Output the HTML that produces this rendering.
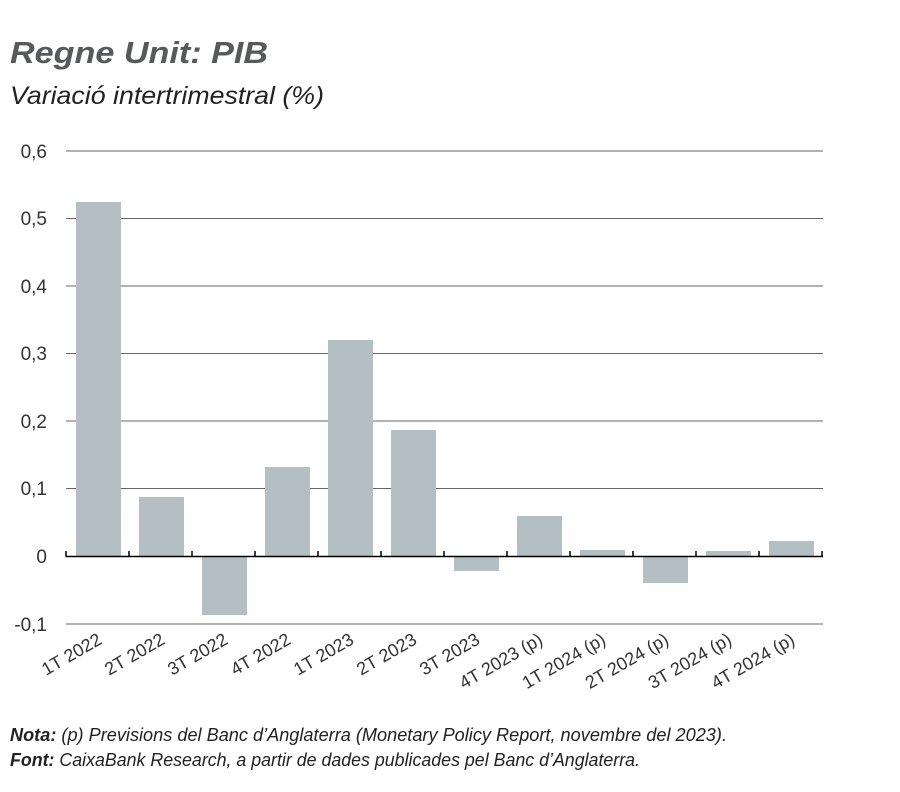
<!DOCTYPE html>
<html><head><meta charset="utf-8"><style>
body{margin:0;background:#fff;width:900px;height:787px;overflow:hidden;font-family:"Liberation Sans",sans-serif;}
</style></head><body>
<svg width="900" height="787" xmlns="http://www.w3.org/2000/svg" font-family="Liberation Sans, sans-serif">
<text x="10" y="63" font-size="31" font-weight="bold" font-style="italic" fill="#58595b" textLength="258" lengthAdjust="spacingAndGlyphs">Regne Unit: PIB</text>
<text x="10" y="104" font-size="25" font-style="italic" fill="#222" textLength="314" lengthAdjust="spacingAndGlyphs">Variació intertrimestral (%)</text>
<g stroke="#666" stroke-width="1">
<line x1="66" x2="823" y1="151" y2="151"/><line x1="66" x2="823" y1="218.5" y2="218.5"/>
<line x1="66" x2="823" y1="286" y2="286"/><line x1="66" x2="823" y1="353.5" y2="353.5"/>
<line x1="66" x2="823" y1="421" y2="421"/><line x1="66" x2="823" y1="488.5" y2="488.5"/>
<line x1="66" x2="823" y1="624" y2="624"/>
</g>
<g font-size="19" fill="#333" text-anchor="end">
<text x="47" y="158">0,6</text><text x="47" y="225">0,5</text><text x="47" y="293">0,4</text>
<text x="47" y="360">0,3</text><text x="47" y="428">0,2</text><text x="47" y="495">0,1</text>
<text x="47" y="563">0</text><text x="47" y="631">-0,1</text>
</g>
<g fill="#b3bfc3">
<rect x="76" y="202" width="45" height="354"/>
<rect x="139" y="497" width="45" height="59"/>
<rect x="202" y="556" width="45" height="59"/>
<rect x="265" y="467" width="45" height="89"/>
<rect x="328" y="340" width="45" height="216"/>
<rect x="391" y="430" width="45" height="126"/>
<rect x="454" y="556" width="45" height="15"/>
<rect x="517" y="516" width="45" height="40"/>
<rect x="580" y="550" width="45" height="6"/>
<rect x="643" y="556" width="45" height="27"/>
<rect x="706" y="551" width="45" height="5"/>
<rect x="769" y="541" width="45" height="15"/>
</g>
<g stroke="#000" stroke-width="1.5">
<line x1="66" x2="823" y1="556.5" y2="556.5"/>
<line x1="66" x2="66" y1="551" y2="557"/><line x1="129" x2="129" y1="551" y2="557"/>
<line x1="192" x2="192" y1="551" y2="557"/><line x1="255" x2="255" y1="551" y2="557"/>
<line x1="318" x2="318" y1="551" y2="557"/><line x1="381" x2="381" y1="551" y2="557"/>
<line x1="444" x2="444" y1="551" y2="557"/><line x1="507" x2="507" y1="551" y2="557"/>
<line x1="570" x2="570" y1="551" y2="557"/><line x1="633" x2="633" y1="551" y2="557"/>
<line x1="696" x2="696" y1="551" y2="557"/><line x1="759" x2="759" y1="551" y2="557"/>
<line x1="822" x2="822" y1="551" y2="557"/>
</g>
<g font-size="18" fill="#333" text-anchor="end">
<text transform="translate(103,643) rotate(-30)">1T 2022</text>
<text transform="translate(166,643) rotate(-30)">2T 2022</text>
<text transform="translate(229,643) rotate(-30)">3T 2022</text>
<text transform="translate(292,643) rotate(-30)">4T 2022</text>
<text transform="translate(355,643) rotate(-30)">1T 2023</text>
<text transform="translate(418,643) rotate(-30)">2T 2023</text>
<text transform="translate(481,643) rotate(-30)">3T 2023</text>
<text transform="translate(544,643) rotate(-30)">4T 2023 (p)</text>
<text transform="translate(607,643) rotate(-30)">1T 2024 (p)</text>
<text transform="translate(670,643) rotate(-30)">2T 2024 (p)</text>
<text transform="translate(733,643) rotate(-30)">3T 2024 (p)</text>
<text transform="translate(796,643) rotate(-30)">4T 2024 (p)</text>
</g>
<text x="10" y="741" font-size="18" font-style="italic" fill="#222" textLength="717" lengthAdjust="spacingAndGlyphs"><tspan font-weight="bold">Nota:</tspan> (p) Previsions del Banc d’Anglaterra (Monetary Policy Report, novembre del 2023).</text>
<text x="10" y="766" font-size="18" font-style="italic" fill="#222" textLength="630" lengthAdjust="spacingAndGlyphs"><tspan font-weight="bold">Font:</tspan> CaixaBank Research, a partir de dades publicades pel Banc d’Anglaterra.</text>
</svg>
</body></html>
